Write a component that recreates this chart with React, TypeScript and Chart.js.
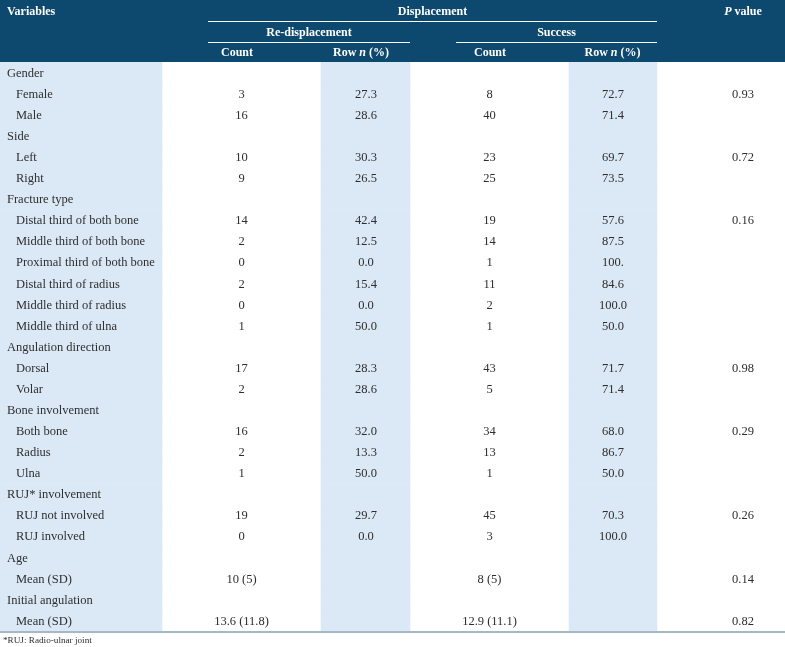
import React, { useEffect, useRef } from "react";
import { Chart, registerables } from "chart.js";

Chart.register(...registerables);

// ---------- DATA ----------
const rowLabels = [
  "Gender", "Female", "Male",
  "Side", "Left", "Right",
  "Fracture type", "Distal third of both bone", "Middle third of both bone", "Proximal third of both bone",
  "Distal third of radius", "Middle third of radius", "Middle third of ulna",
  "Angulation direction", "Dorsal", "Volar",
  "Bone involvement", "Both bone", "Radius", "Ulna",
  "RUJ* involvement", "RUJ not involved", "RUJ involved",
  "Age", "Mean (SD)",
  "Initial angulation", "Mean (SD)",
];

const groupLabels = [
  "Gender", "Side", "Fracture type", "Angulation direction",
  "Bone involvement", "RUJ* involvement", "Age", "Initial angulation",
];

const reDisplacementCount = [
  "", "3", "16", "", "10", "9", "", "14", "2", "0", "2", "0", "1",
  "", "17", "2", "", "16", "2", "1", "", "19", "0", "", "10 (5)", "", "13.6 (11.8)",
];
const reDisplacementRowPct = [
  "", "27.3", "28.6", "", "30.3", "26.5", "", "42.4", "12.5", "0.0", "15.4", "0.0", "50.0",
  "", "28.3", "28.6", "", "32.0", "13.3", "50.0", "", "29.7", "0.0", "", "", "", "",
];
const successCount = [
  "", "8", "40", "", "23", "25", "", "19", "14", "1", "11", "2", "1",
  "", "43", "5", "", "34", "13", "1", "", "45", "3", "", "8 (5)", "", "12.9 (11.1)",
];
const successRowPct = [
  "", "72.7", "71.4", "", "69.7", "73.5", "", "57.6", "87.5", "100.", "84.6", "100.0", "50.0",
  "", "71.7", "71.4", "", "68.0", "86.7", "50.0", "", "70.3", "100.0", "", "", "", "",
];
const pValues = [
  "", "0.93", "", "", "0.72", "", "", "0.16", "", "", "", "", "",
  "", "0.98", "", "", "0.29", "", "", "", "0.26", "", "", "0.14", "", "0.82",
];

const footnote = "*RUJ: Radio-ulnar joint";

// ---------- LAYOUT / STYLE ----------
const W = 785;
const H = 647;
const HEADER_H = 62;
const FOOT_H = 16;
const SHADED_BANDS: [number, number][] = [[0, 162], [321, 410], [569, 657]];
const VALUE_CENTERS = [241.5, 366, 489.5, 613, 743];
const HEADER_COLOR = "#0d486e";
const SHADE_COLOR = "#dbe9f7";
const TEXT_COLOR = "#2e2e2e";
const FONT = '"Liberation Serif", "Times New Roman", serif';

function drawMixed(ctx: CanvasRenderingContext2D, parts: [string, boolean][], cx: number, y: number) {
  const fonts = parts.map(([, it]) => `${it ? "italic " : ""}bold 12px ${FONT}`);
  let total = 0;
  const widths = parts.map(([t], i) => {
    ctx.font = fonts[i];
    const w = ctx.measureText(t).width;
    total += w;
    return w;
  });
  let x = cx - total / 2;
  ctx.textAlign = "left";
  parts.forEach(([t], i) => {
    ctx.font = fonts[i];
    ctx.fillText(t, x, y);
    x += widths[i];
  });
}

const tablePlugin = {
  id: "tablePlugin",
  beforeDraw(chart: any) {
    const { ctx, chartArea } = chart;
    ctx.save();
    ctx.fillStyle = "#ffffff";
    ctx.fillRect(0, 0, chart.width, chart.height);
    ctx.fillStyle = HEADER_COLOR;
    ctx.fillRect(0, 0, chart.width, chartArea.top);
    ctx.restore();
  },
  afterDatasetsDraw(chart: any) {
    const { ctx, chartArea, scales } = chart;
    const xs = scales.x;
    const ys = scales.y;
    ctx.save();

    // header lines
    ctx.strokeStyle = "#ffffff";
    ctx.lineWidth = 1;
    ctx.beginPath();
    ctx.moveTo(xs.getPixelForValue(208), 21.5);
    ctx.lineTo(xs.getPixelForValue(657), 21.5);
    ctx.moveTo(xs.getPixelForValue(208), 42.5);
    ctx.lineTo(xs.getPixelForValue(410), 42.5);
    ctx.moveTo(xs.getPixelForValue(456), 42.5);
    ctx.lineTo(xs.getPixelForValue(657), 42.5);
    ctx.stroke();

    // header text
    ctx.fillStyle = "#ffffff";
    ctx.textBaseline = "middle";
    ctx.font = `bold 12px ${FONT}`;
    ctx.textAlign = "left";
    ctx.fillText("Variables", xs.getPixelForValue(7), 12);
    ctx.textAlign = "center";
    ctx.fillText("Displacement", xs.getPixelForValue(432.5), 12);
    ctx.fillText("Re-displacement", xs.getPixelForValue(309), 32.5);
    ctx.fillText("Success", xs.getPixelForValue(556.5), 32.5);
    ctx.fillText("Count", xs.getPixelForValue(237), 53);
    ctx.fillText("Count", xs.getPixelForValue(490), 53);
    drawMixed(ctx, [["Row ", false], ["n", true], [" (%)", false]], xs.getPixelForValue(361), 53);
    drawMixed(ctx, [["Row ", false], ["n", true], [" (%)", false]], xs.getPixelForValue(612.5), 53);
    drawMixed(ctx, [["P", true], [" value", false]], xs.getPixelForValue(743), 12);

    // body text
    ctx.fillStyle = TEXT_COLOR;
    ctx.font = `12.5px ${FONT}`;
    const cols = [reDisplacementCount, reDisplacementRowPct, successCount, successRowPct, pValues];
    rowLabels.forEach((label, i) => {
      const y = ys.getPixelForValue(i) + 1;
      const isGroup = groupLabels.includes(label);
      ctx.textAlign = "left";
      ctx.fillText(label, xs.getPixelForValue(isGroup ? 7 : 16), y);
      ctx.textAlign = "center";
      cols.forEach((col, c) => {
        if (col[i]) ctx.fillText(col[i], xs.getPixelForValue(VALUE_CENTERS[c]), y);
      });
    });

    // bottom rule
    ctx.strokeStyle = "#a6b7c5";
    ctx.lineWidth = 2;
    ctx.beginPath();
    ctx.moveTo(chartArea.left, chartArea.bottom + 1);
    ctx.lineTo(chartArea.right, chartArea.bottom + 1);
    ctx.stroke();

    // footnote
    ctx.fillStyle = TEXT_COLOR;
    ctx.font = `9.2px ${FONT}`;
    ctx.textAlign = "left";
    ctx.fillText(footnote, 3, chartArea.bottom + 9.5);

    ctx.restore();
  },
};

export default function App() {
  const canvasRef = useRef<HTMLCanvasElement>(null);

  useEffect(() => {
    if (!canvasRef.current) return;
    const datasets = SHADED_BANDS.map(([a, b]) => ({
      label: `shade-${a}`,
      data: rowLabels.map(() => [a, b] as [number, number]),
      backgroundColor: SHADE_COLOR,
      borderWidth: 0,
      categoryPercentage: 1,
      barPercentage: 1,
      grouped: false,
    }));
    const chart = new Chart(canvasRef.current, {
      type: "bar",
      data: { labels: rowLabels.map((l, i) => `${i}:${l}`), datasets: datasets as any },
      options: {
        indexAxis: "y",
        responsive: false,
        animation: false,
        layout: { padding: { top: HEADER_H, bottom: FOOT_H, left: 0, right: 0 } },
        scales: {
          x: { type: "linear", min: 0, max: W, display: false },
          y: { type: "category", display: false, offset: true },
        },
        plugins: {
          legend: { display: false },
          tooltip: { enabled: false },
        },
      },
      plugins: [tablePlugin],
    });
    return () => chart.destroy();
  }, []);

  return (
    <div style={{ position: "fixed", left: 0, top: 0, width: W, height: H, background: "#fff" }}>
      <canvas ref={canvasRef} width={W} height={H} style={{ display: "block", width: W, height: H }} />
    </div>
  );
}
